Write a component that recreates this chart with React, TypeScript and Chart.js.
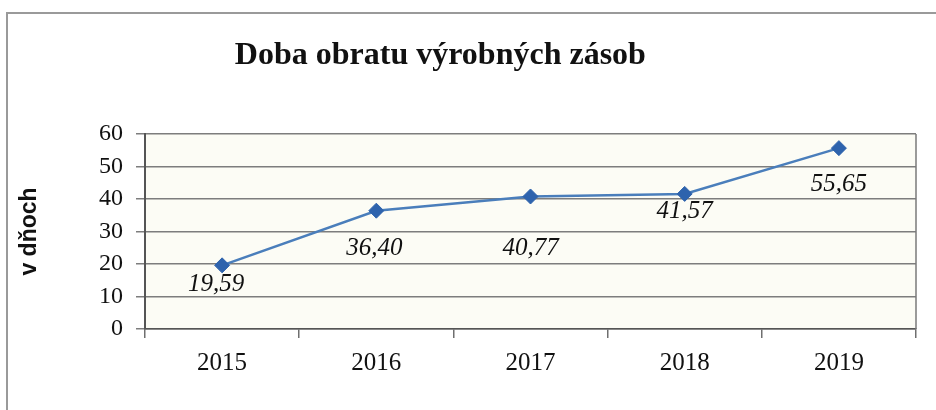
import React, { useEffect, useRef } from "react";
import { Chart, registerables } from "chart.js";

Chart.register(...registerables);

const titleText = "Doba obratu výrobných zásob";
const yAxisTitle = "v dňoch";
const years = ["2015", "2016", "2017", "2018", "2019"];
const values = [19.59, 36.4, 40.77, 41.57, 55.65];
const valueLabels = ["19,59", "36,40", "40,77", "41,57", "55,65"];
const yTicks = [0, 10, 20, 30, 40, 50, 60];

// label placement relative to each point (style, not data)
const labelOffsets = [
  { dx: -6, dy: 19 },
  { dx: -2, dy: 38 },
  { dx: 0, dy: 52 },
  { dx: 0, dy: 18 },
  { dx: 0, dy: 36 },
];

const SERIF = "'Liberation Serif', 'Times New Roman', serif";
const SANS = "'Liberation Sans', Arial, sans-serif";

const plotBgPlugin = {
  id: "plotBg",
  beforeDraw(chart: any) {
    const { ctx, chartArea: a } = chart;
    ctx.save();
    ctx.fillStyle = "#fcfcf5";
    ctx.fillRect(a.left, a.top, a.right - a.left, a.bottom - a.top);
    ctx.restore();
  },
  afterDatasetsDraw(chart: any) {
    const { ctx, chartArea: a } = chart;
    ctx.save();
    ctx.strokeStyle = "#7a7a7a";
    ctx.lineWidth = 1.5;
    ctx.beginPath();
    ctx.moveTo(a.right, a.top);
    ctx.lineTo(a.right, a.bottom);
    ctx.stroke();
    ctx.restore();
  },
};

const titlePlugin = {
  id: "customTitle",
  afterDraw(chart: any) {
    const { ctx } = chart;
    ctx.save();
    ctx.font = `bold 32px ${SERIF}`;
    ctx.fillStyle = "#111";
    ctx.textAlign = "center";
    ctx.textBaseline = "middle";
    ctx.fillText(titleText, chart.width * 0.4705, 56);
    ctx.restore();
  },
};

const dataLabelPlugin = {
  id: "dataLabels",
  afterDatasetsDraw(chart: any) {
    const { ctx } = chart;
    const meta = chart.getDatasetMeta(0);
    ctx.save();
    ctx.font = `italic 25px ${SERIF}`;
    ctx.fillStyle = "#111";
    ctx.textAlign = "center";
    ctx.textBaseline = "middle";
    meta.data.forEach((pt: any, i: number) => {
      const o = labelOffsets[i];
      ctx.fillText(valueLabels[i], pt.x + o.dx, pt.y + o.dy);
    });
    ctx.restore();
  },
};

export default function App() {
  const ref = useRef<HTMLCanvasElement>(null);
  useEffect(() => {
    if (!ref.current) return;
    const chart = new Chart(ref.current, {
      type: "line",
      data: {
        labels: years,
        datasets: [
          {
            data: values,
            borderColor: "#4a7ebb",
            borderWidth: 2.5,
            pointStyle: "rectRot",
            pointRadius: 7.5,
            pointBackgroundColor: "#2e63ad",
            pointBorderColor: "#2e63ad",
            pointBorderWidth: 1,
            tension: 0,
            fill: false,
          },
        ],
      },
      options: {
        responsive: false,
        animation: false,
        layout: { padding: { top: 134, right: 20, left: 0, bottom: 0 } },
        plugins: {
          legend: { display: false },
          title: { display: false },
          tooltip: { enabled: false },
        },
        scales: {
          x: {
            type: "category",
            offset: true,
            afterFit(scale: any) {
              scale.height = 81;
            },
            grid: {
              offset: true,
              drawOnChartArea: false,
              drawTicks: true,
              tickLength: 9,
              color: "#6f6f6f",
              lineWidth: 1.5,
            },
            border: { display: true, color: "#555", width: 1.5 },
            ticks: {
              padding: 10,
              color: "#111",
              font: { family: SERIF, size: 25 },
              maxRotation: 0,
            },
          },
          y: {
            min: 0,
            max: 60,
            afterBuildTicks(scale: any) {
              scale.ticks = yTicks.map((v) => ({ value: v }));
            },
            afterFit(scale: any) {
              scale.width = 145;
            },
            grid: {
              drawOnChartArea: true,
              drawTicks: true,
              tickLength: 9,
              color: "#7d7d7d",
              lineWidth: 1.5,
            },
            border: { display: true, color: "#555", width: 2 },
            ticks: {
              padding: 13,
              color: "#111",
              font: { family: SERIF, size: 24 },
            },
            title: {
              display: true,
              text: yAxisTitle,
              color: "#111",
              font: { family: SANS, size: 23, weight: "bold" },
              padding: { top: 16, bottom: 0 },
            },
          },
        },
      },
      plugins: [plotBgPlugin, titlePlugin, dataLabelPlugin],
    });
    return () => chart.destroy();
  }, []);

  return (
    <div style={{ position: "absolute", left: 0, top: 0, width: 936, height: 410, background: "#fff", overflow: "hidden" }}>
      <div
        style={{
          position: "absolute",
          left: 6,
          top: 12,
          width: 940,
          height: 410,
          borderTop: "2px solid #9a9a9a",
          borderLeft: "2px solid #9a9a9a",
        }}
      />
      <canvas ref={ref} width={936} height={410} style={{ position: "absolute", left: 0, top: 0, display: "block" }} />
    </div>
  );
}
